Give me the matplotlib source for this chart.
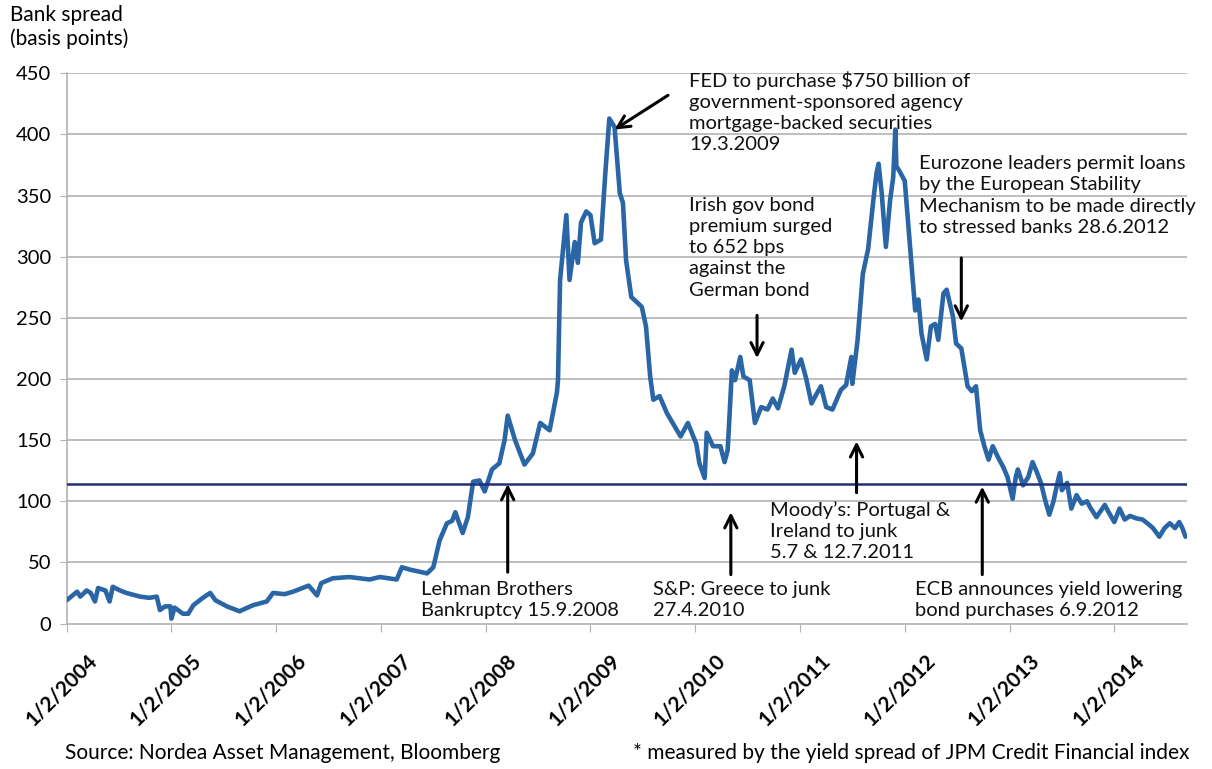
import matplotlib
matplotlib.use("Agg")
import matplotlib.pyplot as plt
import matplotlib.transforms as mtrans

# bank spread (basis points); time as decimal years
t = [2004.00, 2004.10, 2004.13, 2004.19, 2004.23, 2004.27, 2004.30, 2004.37, 2004.41, 2004.44,
     2004.51, 2004.57, 2004.70, 2004.79, 2004.86, 2004.89, 2004.94, 2004.99, 2005.00, 2005.03,
     2005.11, 2005.16, 2005.21, 2005.30, 2005.37, 2005.42, 2005.53, 2005.65, 2005.78, 2005.91,
     2005.97, 2006.08, 2006.16, 2006.31, 2006.39, 2006.43, 2006.54, 2006.70, 2006.89, 2006.99,
     2007.15, 2007.20, 2007.28, 2007.44, 2007.50, 2007.56, 2007.63, 2007.68, 2007.71, 2007.78,
     2007.83, 2007.88, 2007.94, 2007.99, 2008.06, 2008.13, 2008.18, 2008.21, 2008.28, 2008.37,
     2008.45, 2008.52, 2008.61, 2008.68, 2008.69, 2008.71, 2008.77, 2008.80, 2008.85, 2008.88,
     2008.91, 2008.96, 2009.00, 2009.04, 2009.10, 2009.14, 2009.18, 2009.23, 2009.28, 2009.31,
     2009.34, 2009.39, 2009.49, 2009.53, 2009.57, 2009.60, 2009.66, 2009.73, 2009.86, 2009.93,
     2010.01, 2010.04, 2010.09, 2010.11, 2010.17, 2010.24, 2010.28, 2010.31, 2010.35, 2010.38,
     2010.43, 2010.46, 2010.52, 2010.57, 2010.63, 2010.69, 2010.74, 2010.79, 2010.85, 2010.92,
     2010.95, 2011.01, 2011.06, 2011.11, 2011.16, 2011.20, 2011.25, 2011.31, 2011.39, 2011.44,
     2011.49, 2011.50, 2011.55, 2011.59, 2011.60, 2011.65, 2011.70, 2011.73, 2011.75, 2011.78,
     2011.82, 2011.86, 2011.89, 2011.91, 2011.92, 2011.95, 2012.00, 2012.02, 2012.06, 2012.10,
     2012.13, 2012.16, 2012.21, 2012.25, 2012.29, 2012.32, 2012.37, 2012.40, 2012.46, 2012.49,
     2012.54, 2012.60, 2012.64, 2012.68, 2012.72, 2012.76, 2012.80, 2012.84, 2012.89, 2012.94,
     2012.98, 2013.03, 2013.06, 2013.08, 2013.13, 2013.18, 2013.22, 2013.26, 2013.30, 2013.34,
     2013.38, 2013.42, 2013.45, 2013.48, 2013.50, 2013.55, 2013.59, 2013.64, 2013.69, 2013.74,
     2013.77, 2013.83, 2013.91, 2013.94, 2014.00, 2014.05, 2014.10, 2014.15, 2014.21, 2014.27,
     2014.33, 2014.37, 2014.43, 2014.48, 2014.53, 2014.58, 2014.62, 2014.65, 2014.68]
spread = [19, 26, 22, 27, 25, 18, 29, 27, 18, 30,
          27, 25, 22, 21, 22, 11, 14, 14, 4, 13,
          8, 8, 15, 21, 25, 19, 14, 10, 15, 18,
          25, 24, 26, 31, 23, 33, 37, 38, 36, 38,
          36, 46, 44, 41, 46, 68, 82, 84, 91, 74,
          87, 116, 117, 108, 126, 131, 150, 170, 150, 130,
          139, 164, 158, 189, 199, 281, 334, 281, 312, 295,
          328, 337, 334, 311, 314, 366, 413, 406, 352, 344,
          297, 267, 259, 243, 202, 183, 186, 172, 153, 164,
          147, 131, 119, 156, 145, 145, 132, 142, 207, 199,
          218, 202, 199, 164, 177, 175, 184, 176, 194, 224,
          205, 216, 200, 180, 188, 194, 177, 175, 191, 195,
          218, 196, 232, 276, 286, 306, 346, 368, 376, 352,
          308, 346, 365, 404, 374, 370, 362, 341, 300, 256,
          265, 237, 216, 243, 245, 232, 270, 273, 251, 229,
          225, 194, 190, 194, 158, 145, 134, 145, 136, 128,
          120, 102, 120, 126, 113, 120, 132, 124, 115, 101,
          89, 100, 112, 123, 109, 115, 94, 105, 98, 100,
          95, 87, 97, 92, 83, 94, 85, 88, 86, 85,
          81, 78, 71, 78, 82, 78, 83, 78, 71]
avg_level = 114

years = list(range(2004, 2015))
year_labels = ['1/2/%d' % y for y in years]
y_ticks = [0, 50, 100, 150, 200, 250, 300, 350, 400, 450]

# annotations: text, text pos (year, bp), arrow tail, arrow tip
notes = [
    ("FED to purchase $750 billion of\ngovernment-sponsored agency\nmortgage-backed securities\n19.3.2009",
     (2009.94, 452), (2009.74, 432), (2009.23, 404)),
    ("Irish gov bond\npremium surged\nto 652 bps\nagainst the\nGerman bond",
     (2009.94, 349), (2010.59, 252), (2010.59, 217)),
    ("Eurozone leaders permit loans\nby the European Stability\nMechanism to be made directly\nto stressed banks 28.6.2012",
     (2012.14, 383), (2012.54, 299), (2012.54, 247)),
    ("Lehman Brothers\nBankruptcy 15.9.2008",
     (2007.38, 35), (2008.21, 42), (2008.21, 114)),
    ("S&P: Greece to junk\n27.4.2010",
     (2009.60, 35), (2010.34, 40), (2010.34, 91)),
    ("Moody\u2019s: Portugal &\nIreland to junk\n5.7 & 12.7.2011",
     (2010.71, 100), (2011.54, 107), (2011.54, 149)),
    ("ECB announces yield lowering\nbond purchases 6.9.2012",
     (2012.10, 35), (2012.74, 40), (2012.74, 112)),
]

plt.rcParams['font.family'] = ['Lato', 'DejaVu Sans']

fig = plt.figure(figsize=(12.12, 7.69), dpi=100)
ax = fig.add_axes([0.055, 0.1892, 0.924, 0.7155])

grid_col = '#B3B3B3'
for yv in y_ticks[1:]:
    ax.axhline(yv, color=grid_col, lw=1.2, zorder=1)

ax.plot(t, spread, color='#2A65A6', lw=3.3, solid_joinstyle='round',
        solid_capstyle='round', zorder=3)
ax.axhline(avg_level, color='#22307A', lw=1.8, zorder=4)

ax.set_xlim(2004.0, 2014.69)
ax.set_ylim(0, 450)
ax.set_yticks(y_ticks)
ax.set_yticklabels([str(v) for v in y_ticks], fontsize=14.5)
ax.set_xticks(years)
ax.set_xticklabels(year_labels, rotation=45, ha='right', va='top',
                   rotation_mode='anchor', fontsize=15, fontweight='bold')

for s in ['top', 'right']:
    ax.spines[s].set_visible(False)
ax.spines['left'].set_color(grid_col)
ax.spines['bottom'].set_color(grid_col)
ax.spines['left'].set_linewidth(1.2)
ax.spines['bottom'].set_linewidth(1.2)
ax.tick_params(axis='y', length=5, color=grid_col, pad=6)
ax.tick_params(axis='x', length=6, color=grid_col, pad=13)

# shift the rotated date labels to the right like the original
shift = mtrans.ScaledTranslation(20 / 100, 0, fig.dpi_scale_trans)
for lab in ax.get_xticklabels():
    lab.set_transform(lab.get_transform() + shift)

for txt, tpos, tail, tip in notes:
    ax.text(tpos[0], tpos[1], txt, fontsize=14.5, ha='left', va='top',
            linespacing=1.3, color='#111111', zorder=5)
    ax.annotate('', xy=tip, xytext=tail,
                arrowprops=dict(arrowstyle='->', color='black', lw=2.2,
                                mutation_scale=22, shrinkA=0, shrinkB=0),
                zorder=6)

fig.text(0.008, 0.993, 'Bank spread\n(basis points)', fontsize=15,
         ha='left', va='top', linespacing=1.2)
fig.text(0.054, 0.008, 'Source: Nordea Asset Management, Bloomberg',
         fontsize=15, ha='left', va='bottom')
fig.text(0.981, 0.008, '* measured by the yield spread of JPM Credit Financial index',
         fontsize=15, ha='right', va='bottom')

fig.savefig('out.png', dpi=100)
